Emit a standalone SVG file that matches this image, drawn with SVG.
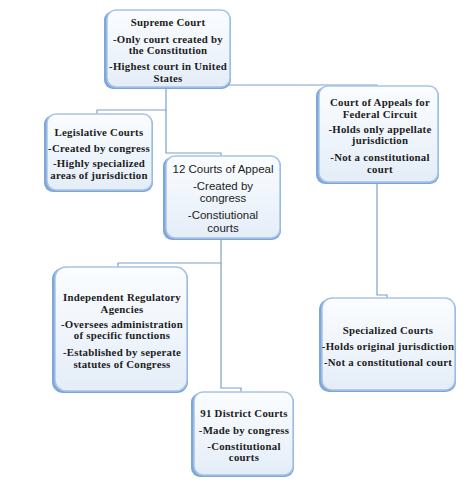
<svg xmlns="http://www.w3.org/2000/svg" width="474" height="500" viewBox="0 0 474 500">
<defs>
<linearGradient id="g" x1="0" y1="0" x2="0" y2="1">
<stop offset="0" stop-color="#fbfdff"/>
<stop offset="1" stop-color="#e4edf8"/>
</linearGradient>
</defs>
<style>
.sh{fill:#7ea6d8;}
.bx{fill:url(#g);stroke:#a8c3e6;stroke-width:1.5;}
.t{font-family:"Liberation Serif",serif;font-weight:bold;font-size:10.8px;letter-spacing:0.25px;fill:#1c1c1c;text-anchor:middle;}
.s{font-family:"Liberation Sans",sans-serif;font-size:11.5px;fill:#1c1c1c;text-anchor:middle;}
.c{fill:none;stroke:#7f9fcb;stroke-width:1.2;}
</style>
<rect width="474" height="500" fill="#ffffff"/>
<g id="connectors">
<polyline class="c" points="166,87 166,110 97,110 97,114"/>
<polyline class="c" points="166,110 166,153 221,153 221,156"/>
<polyline class="c" points="228,85 377,85 377,87"/>
<polyline class="c" points="377,182 377,295 387,295 387,298"/>
<polyline class="c" points="221,238 221,263 118,263 118,267"/>
<polyline class="c" points="221,263 221,388 241,388 241,392"/>
</g>
<g id="supreme">
<rect class="sh" x="104" y="11" width="127" height="78" rx="9"/>
<rect class="bx" x="107" y="10" width="123" height="77" rx="9"/>
<text class="t" x="168" y="26">Supreme Court</text>
<text class="t" x="168" y="42.5">-Only court created by</text>
<text class="t" x="168" y="54">the Constitution</text>
<text class="t" x="168" y="70">-Highest court in United</text>
<text class="t" x="168" y="82">States</text>
</g>
<g id="legislative">
<rect class="sh" x="44" y="115" width="109" height="77" rx="9"/>
<rect class="bx" x="47" y="114" width="105" height="76" rx="9"/>
<text class="t" x="99" y="135.5">Legislative Courts</text>
<text class="t" x="99" y="152">-Created by congress</text>
<text class="t" x="99" y="167">-Highly specialized</text>
<text class="t" x="99" y="178.5">areas of jurisdiction</text>
</g>
<g id="appeals12">
<rect class="sh" x="163" y="157" width="118" height="83" rx="9"/>
<rect class="bx" x="166" y="156" width="114" height="82" rx="9"/>
<text class="s" x="223" y="172.5">12 Courts of Appeal</text>
<text class="s" x="223" y="190">-Created by</text>
<text class="s" x="223" y="202">congress</text>
<text class="s" x="223" y="219">-Constiutional</text>
<text class="s" x="223" y="232">courts</text>
</g>
<g id="federal">
<rect class="sh" x="316" y="87" width="123" height="97" rx="9"/>
<rect class="bx" x="319" y="86" width="119" height="96" rx="9"/>
<text class="t" x="380" y="106">Court of Appeals for</text>
<text class="t" x="380" y="117.5">Federal Circuit</text>
<text class="t" x="380" y="132.5">-Holds only appellate</text>
<text class="t" x="380" y="144">jurisdiction</text>
<text class="t" x="380" y="161">-Not a constitutional</text>
<text class="t" x="380" y="172.5">court</text>
</g>
<g id="independent">
<rect class="sh" x="52" y="268" width="136" height="125" rx="11"/>
<rect class="bx" x="55" y="267" width="132" height="124" rx="11"/>
<text class="t" x="122" y="301">Independent Regulatory</text>
<text class="t" x="122" y="313">Agencies</text>
<text class="t" x="122" y="327.5">-Oversees administration</text>
<text class="t" x="122" y="339">of specific functions</text>
<text class="t" x="122" y="356">-Established by seperate</text>
<text class="t" x="122" y="367.5">statutes of Congress</text>
</g>
<g id="specialized">
<rect class="sh" x="319" y="299" width="137" height="93" rx="10"/>
<rect class="bx" x="322" y="298" width="133" height="92" rx="10"/>
<text class="t" x="388" y="334">Specialized Courts</text>
<text class="t" x="388" y="350">-Holds original jurisdiction</text>
<text class="t" x="388" y="365.5">-Not a constitutional court</text>
</g>
<g id="district">
<rect class="sh" x="191" y="393" width="103" height="84" rx="9"/>
<rect class="bx" x="194" y="392" width="99" height="83" rx="9"/>
<text class="t" x="244" y="417">91 District Courts</text>
<text class="t" x="244" y="433.5">-Made by congress</text>
<text class="t" x="244" y="449.5">-Constitutional</text>
<text class="t" x="244" y="461">courts</text>
</g>
</svg>
